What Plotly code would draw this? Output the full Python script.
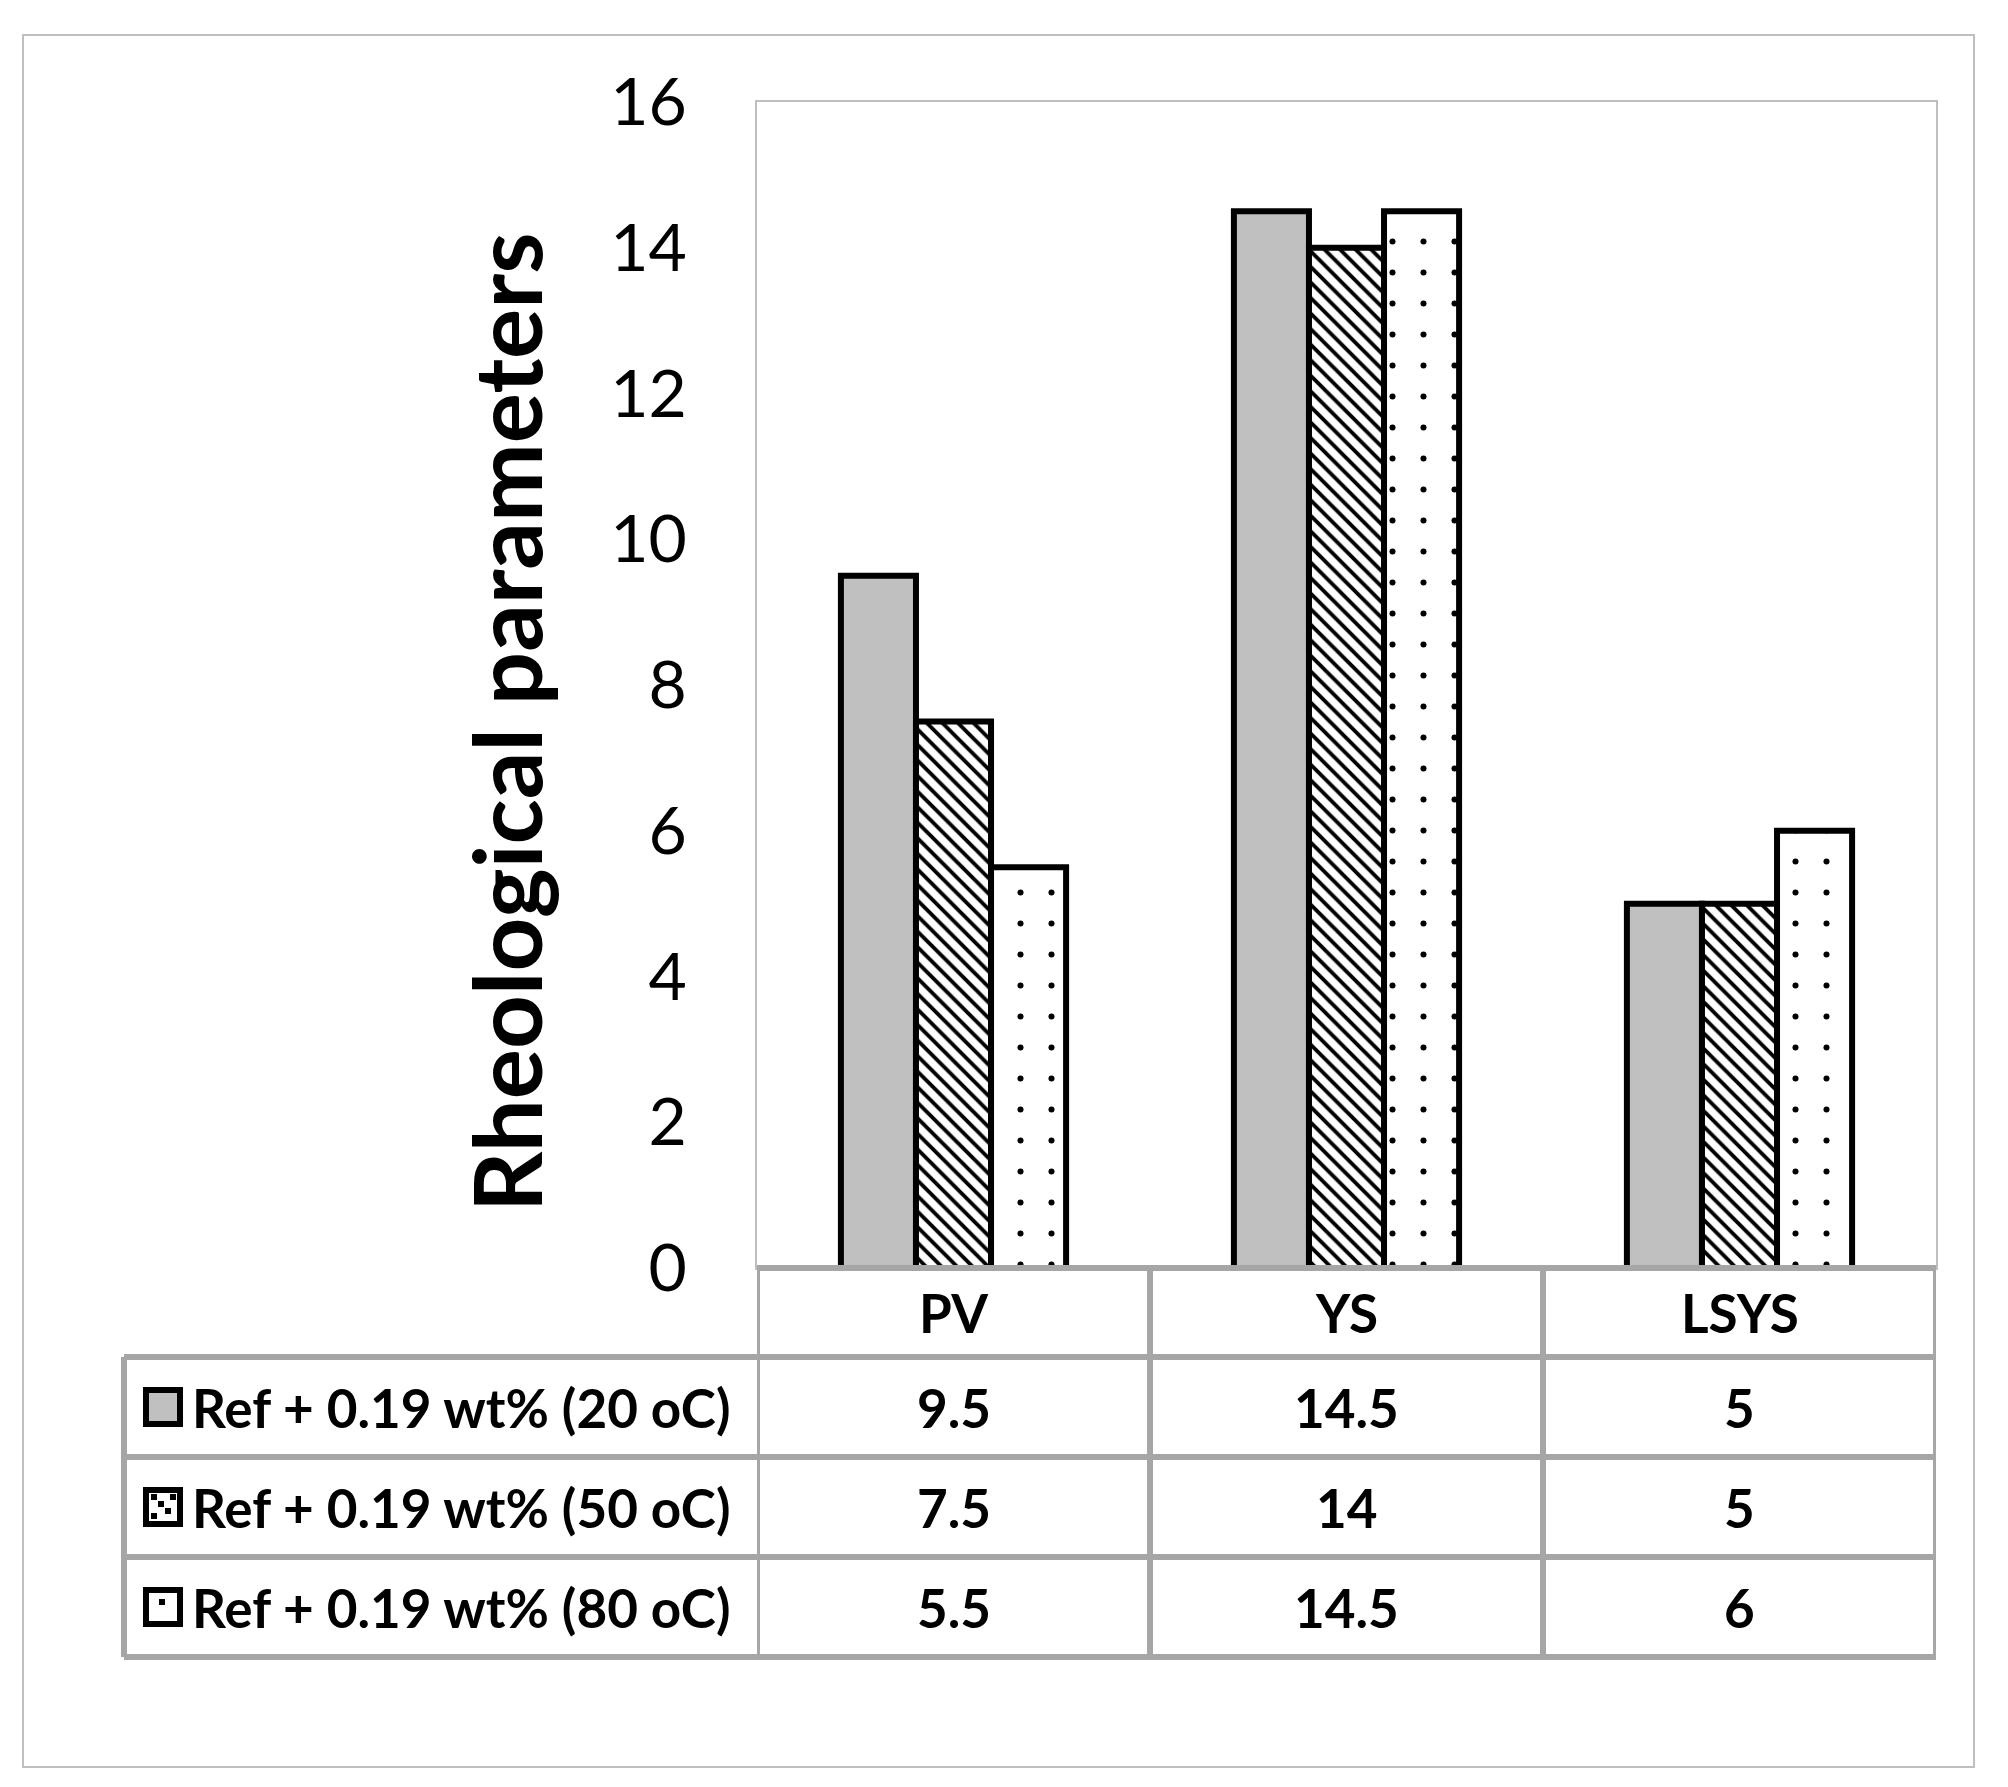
import plotly.graph_objects as go

# ---------------- data ----------------
categories = ["PV", "YS", "LSYS"]
series_names = ["Ref + 0.19 wt% (20 oC)", "Ref + 0.19 wt% (50 oC)", "Ref + 0.19 wt% (80 oC)"]
values_20C = [9.5, 14.5, 5]
values_50C = [7.5, 14, 5]
values_80C = [5.5, 14.5, 6]
y_ticks = [0, 2, 4, 6, 8, 10, 12, 14, 16]
y_title = "Rheological parameters"

# ---------------- layout geometry ----------------
W, H = 2008, 1787
OFF = 8                                  # page body margin of the html
PL, PR, PT, PB = 757, 1936, 102, 1268   # plot area pixel edges (target picture)


def px(xp):
    return (xp - PL) / (PR - PL)


def py(yp):
    return (PB - yp) / (PB - PT)


FONT = "Lato"
GRID = "#A6A6A6"
series_values = [values_20C, values_50C, values_80C]
fills = ["#C0C0C0", "white", "white"]
patterns = [
    None,
    dict(shape="\\", fgcolor="black", bgcolor="white", size=11, solidity=0.35, fillmode="replace"),
    dict(shape=".", fgcolor="black", bgcolor="white", size=31, solidity=0.03, fillmode="replace"),
]

fig = go.Figure()
for name, vals, col, pat in zip(series_names, series_values, fills, patterns):
    marker = dict(color=col, line=dict(color="black", width=6))
    if pat is not None:
        marker["pattern"] = pat
    fig.add_trace(go.Bar(x=categories, y=vals, name=name, marker=marker))

shapes = []
annotations = []

# outer chart border
shapes.append(dict(type="rect", xref="paper", yref="paper",
                   x0=px(23), x1=px(1974), y0=py(1767), y1=py(35),
                   line=dict(color="#BFBFBF", width=2), layer="below"))

# data table rows (header + one per series)
header_top, header_bot = 1268, 1357
row_h = 100
row_edges = [header_bot + i * row_h for i in range(len(series_names) + 1)]
table_left = 124

# horizontal lines
shapes.append(dict(type="line", xref="x", yref="paper", x0=-0.5, x1=len(categories) - 0.5,
                   y0=py(header_top), y1=py(header_top), line=dict(color=GRID, width=6)))
for ye in row_edges:
    shapes.append(dict(type="line", xref="paper", yref="paper", x0=px(table_left), x1=1,
                       y0=py(ye), y1=py(ye), line=dict(color=GRID, width=6)))
# vertical lines at category boundaries
for i in range(len(categories) + 1):
    shapes.append(dict(type="line", xref="x", yref="paper", x0=i - 0.5, x1=i - 0.5,
                       y0=py(header_top), y1=py(row_edges[-1]), line=dict(color=GRID, width=6)))
# left edge of label column
shapes.append(dict(type="line", xref="paper", yref="paper", x0=px(table_left), x1=px(table_left),
                   y0=py(header_bot), y1=py(row_edges[-1]), line=dict(color=GRID, width=6)))

cell_font = dict(family=FONT, size=53, color="black", weight="bold")

# header labels
for c in categories:
    annotations.append(dict(xref="x", yref="paper", x=c, y=py((header_top + header_bot) / 2),
                            text=c, showarrow=False, font=cell_font, xanchor="center", yanchor="middle"))

# values and series labels
for r, (name, vals) in enumerate(zip(series_names, series_values)):
    yc = (row_edges[r] + row_edges[r + 1]) / 2
    for c, v in zip(categories, vals):
        annotations.append(dict(xref="x", yref="paper", x=c, y=py(yc), text=f"{v:g}",
                                showarrow=False, font=cell_font, xanchor="center", yanchor="middle"))
    annotations.append(dict(xref="paper", yref="paper", x=px(190), y=py(yc), text=name,
                            showarrow=False, font=cell_font, xanchor="left", yanchor="middle"))
    # legend key square
    shapes.append(dict(type="rect", xref="paper", yref="paper",
                       x0=px(146), x1=px(180), y0=py(yc + 17), y1=py(yc - 17),
                       fillcolor=fills[r], line=dict(color="black", width=6)))
    if r == 1:
        for (a, b) in [(151, yc - 13), (158, yc - 6), (165, yc + 1), (151, yc + 6), (170, yc - 13)]:
            shapes.append(dict(type="rect", xref="paper", yref="paper",
                               x0=px(a), x1=px(a + 6), y0=py(b + 6), y1=py(b),
                               fillcolor="black", line=dict(width=0)))
    if r == 2:
        shapes.append(dict(type="rect", xref="paper", yref="paper",
                           x0=px(159), x1=px(165), y0=py(yc - 2), y1=py(yc - 8),
                           fillcolor="black", line=dict(width=0)))

# y-axis title
annotations.append(dict(xref="paper", yref="paper", x=px(505), y=py(723), text=y_title,
                        textangle=-90, showarrow=False, xanchor="center", yanchor="middle",
                        font=dict(family=FONT, size=94, color="black", weight="bold")))

fig.update_layout(
    width=W, height=H, autosize=False,
    margin=dict(l=PL - OFF, r=W - (PR - OFF), t=PT - OFF, b=H - (PB - OFF), pad=0),
    paper_bgcolor="white", plot_bgcolor="white",
    showlegend=False, bargap=0.427, bargroupgap=0,
    xaxis=dict(range=[-0.5, len(categories) - 0.5], showticklabels=False, ticks="",
               showgrid=False, zeroline=False, showline=True, linecolor="#BFBFBF",
               linewidth=2, mirror=True),
    yaxis=dict(range=[0, 16], tickvals=y_ticks, showgrid=False, zeroline=False,
               showline=True, linecolor="#BFBFBF", linewidth=2, mirror=True, ticks="",
               ticklabelstandoff=55,
               tickfont=dict(family=FONT, size=66, color="black")),
    shapes=shapes, annotations=annotations,
)

fig.write_html("out.html")
